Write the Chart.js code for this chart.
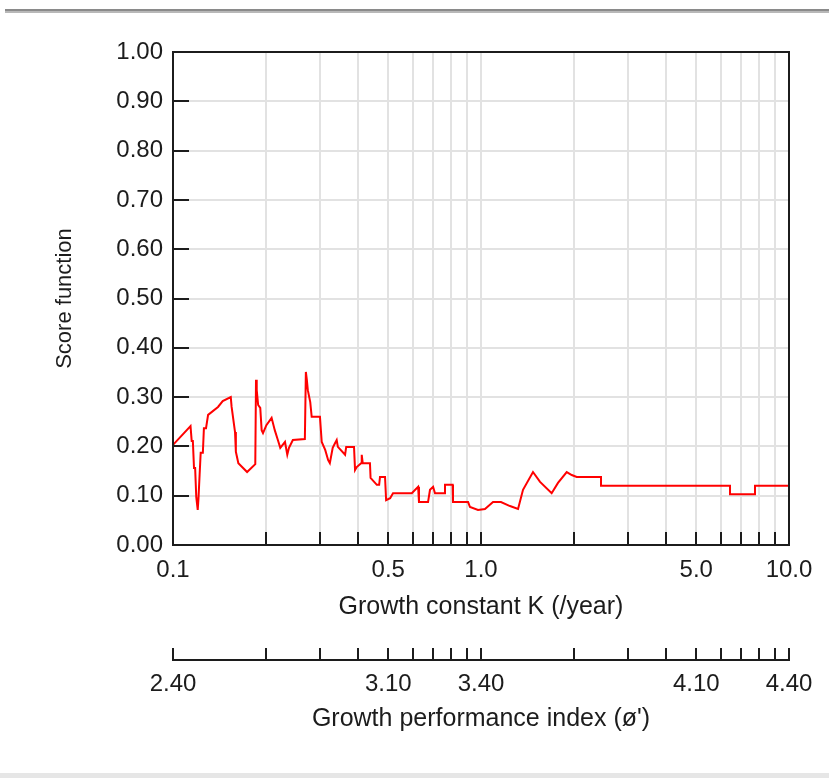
<!DOCTYPE html>
<html>
<head>
<meta charset="utf-8">
<title>Score function</title>
<script src="https://cdn.jsdelivr.net/npm/chart.js@4.4.1/dist/chart.umd.min.js"></script>
<style>
  html, body { margin: 0; padding: 0; background: #fff; }
  canvas { display: block; }
</style>
</head>
<body>
<canvas id="scoreChart" width="829" height="778"></canvas>
<script>
// ---------- DATA ----------
const growthK = [
  0.1, 0.114, 0.115, 0.116, 0.117, 0.118, 0.119, 0.1196, 0.1203, 0.121,
  0.122, 0.123, 0.125, 0.126, 0.128, 0.130, 0.140, 0.145, 0.154, 0.155,
  0.159, 0.160, 0.163, 0.174, 0.185, 0.186, 0.187, 0.189, 0.192, 0.194,
  0.196, 0.201, 0.209, 0.214, 0.219, 0.223, 0.227, 0.231, 0.235, 0.238,
  0.245, 0.268, 0.270, 0.272, 0.274, 0.279, 0.282, 0.300, 0.304, 0.312,
  0.319, 0.323, 0.330, 0.336, 0.340, 0.343, 0.362, 0.365, 0.387, 0.390,
  0.395, 0.408, 0.410, 0.413, 0.436, 0.438, 0.459, 0.467, 0.470, 0.488,
  0.492, 0.507, 0.518, 0.596, 0.625, 0.629, 0.673, 0.683, 0.699, 0.709,
  0.759, 0.764, 0.809, 0.811, 0.908, 0.921, 0.978, 1.030, 1.094, 1.161,
  1.242, 1.319, 1.369, 1.475, 1.555, 1.696, 1.778, 1.898, 1.971, 2.045,
  2.453, 2.453, 6.434, 6.434, 7.755, 7.755, 10.0
];
const scoreValues = [
  0.203, 0.241, 0.211, 0.211, 0.156, 0.156, 0.097, 0.097, 0.071, 0.095,
  0.142, 0.187, 0.187, 0.237, 0.237, 0.264, 0.280, 0.292, 0.300, 0.280,
  0.229, 0.189, 0.166, 0.148, 0.164, 0.335, 0.314, 0.284, 0.278, 0.233,
  0.227, 0.243, 0.258, 0.233, 0.213, 0.197, 0.203, 0.209, 0.183, 0.197,
  0.213, 0.215, 0.351, 0.335, 0.314, 0.290, 0.260, 0.260, 0.209, 0.193,
  0.172, 0.166, 0.197, 0.207, 0.213, 0.199, 0.183, 0.199, 0.199, 0.152,
  0.158, 0.166, 0.183, 0.166, 0.166, 0.136, 0.122, 0.122, 0.138, 0.138,
  0.091, 0.095, 0.105, 0.105, 0.118, 0.087, 0.087, 0.112, 0.118, 0.105,
  0.105, 0.122, 0.122, 0.087, 0.087, 0.077, 0.071, 0.073, 0.087, 0.087,
  0.079, 0.073, 0.112, 0.148, 0.128, 0.105, 0.126, 0.148, 0.142, 0.138,
  0.138, 0.120, 0.120, 0.103, 0.103, 0.120, 0.120
];

// log ticks on K axis, and which of them get a label
const kTicks = [0.1, 0.2, 0.3, 0.4, 0.5, 0.6, 0.7, 0.8, 0.9, 1, 2, 3, 4, 5, 6, 7, 8, 9, 10];
const kLabelValues = [0.1, 0.5, 1, 5, 10];
const kLabelText = ["0.1", "0.5", "1.0", "5.0", "10.0"];
const phiLabelText = ["2.40", "3.10", "3.40", "4.10", "4.40"];
const yTicks = [0, 0.1, 0.2, 0.3, 0.4, 0.5, 0.6, 0.7, 0.8, 0.9, 1.0];

const FONT = "'Liberation Sans', Arial, sans-serif";
const INK = "#1c1c1c";

// ---------- FRAME / TICK MARKS ----------
const framePlugin = {
  id: "frame",
  beforeDraw(chart) {
    const ctx = chart.ctx;
    ctx.save();
    ctx.fillStyle = "#fff";
    ctx.fillRect(0, 0, chart.width, chart.height);
    // window decoration lines
    ctx.fillStyle = "#8a8a8a";
    ctx.fillRect(5, 9, chart.width - 5, 2);
    ctx.fillStyle = "#b8b8b8";
    ctx.fillRect(5, 11, chart.width - 5, 2);
    ctx.fillStyle = "#e6e6e6";
    ctx.fillRect(0, 773, chart.width, 5);
    ctx.restore();
  },
  afterDraw(chart) {
    const ctx = chart.ctx;
    const a = chart.chartArea;
    const xs = chart.scales.x;
    const x2 = chart.scales.x2;
    const ys = chart.scales.y;
    ctx.save();
    ctx.strokeStyle = INK;
    ctx.lineWidth = 2;
    ctx.strokeRect(a.left, a.top, a.right - a.left, a.bottom - a.top);

    ctx.beginPath();
    xs.ticks.forEach(t => {
      const px = Math.round(xs.getPixelForValue(t.value));
      ctx.moveTo(px, a.bottom);
      ctx.lineTo(px, a.bottom - 13);
    });
    ys.ticks.forEach(t => {
      const py = Math.round(ys.getPixelForValue(t.value));
      ctx.moveTo(a.left, py);
      ctx.lineTo(a.left + 16, py);
    });
    x2.ticks.forEach(t => {
      const px = Math.round(x2.getPixelForValue(t.value));
      ctx.moveTo(px, x2.top);
      ctx.lineTo(px, x2.top - 12);
    });
    ctx.stroke();
    ctx.restore();
  }
};

function labelFor(texts) {
  return value => {
    const i = kLabelValues.findIndex(v => Math.abs(v - value) < 1e-9);
    return i >= 0 ? texts[i] : "";
  };
}

// ---------- CHART ----------
const ctx = document.getElementById("scoreChart");

new Chart(ctx, {
  type: "line",
  data: {
    datasets: [
      {
        data: growthK.map((k, i) => ({ x: k, y: scoreValues[i] })),
        borderColor: "#ff0000",
        borderWidth: 2,
        pointRadius: 0,
        tension: 0,
        fill: false
      }
    ]
  },
  options: {
    responsive: false,
    animation: false,
    devicePixelRatio: 1,
    layout: { padding: { top: 52, right: 40, bottom: 18, left: 0 } },
    plugins: {
      legend: { display: false },
      tooltip: { enabled: false }
    },
    scales: {
      x: {
        type: "logarithmic",
        position: "bottom",
        weight: 0,
        min: 0.1,
        max: 10,
        afterBuildTicks: s => { s.ticks = kTicks.map(v => ({ value: v })); },
        afterFit: s => { s.height = 115; },
        ticks: {
          autoSkip: false,
          maxRotation: 0,
          padding: 11,
          color: INK,
          font: { family: FONT, size: 24 },
          callback: labelFor(kLabelText)
        },
        grid: { color: "#e2e2e2", lineWidth: 2, drawTicks: false },
        border: { display: true, color: INK, width: 2 },
        title: {
          display: true,
          text: "Growth constant K (/year)",
          color: INK,
          font: { family: FONT, size: 25 },
          padding: { top: 0, bottom: 38 }
        }
      },
      x2: {
        type: "logarithmic",
        position: "bottom",
        weight: 1,
        min: 0.1,
        max: 10,
        afterBuildTicks: s => { s.ticks = kTicks.map(v => ({ value: v })); },
        afterFit: s => { s.height = 100; },
        ticks: {
          autoSkip: false,
          maxRotation: 0,
          padding: 10,
          color: INK,
          font: { family: FONT, size: 24 },
          callback: labelFor(phiLabelText)
        },
        grid: { display: false, drawTicks: false },
        border: { display: true, color: INK, width: 2 },
        title: {
          display: true,
          text: "Growth performance index (ø')",
          color: INK,
          font: { family: FONT, size: 25 },
          padding: { top: 0, bottom: 26 }
        }
      },
      y: {
        type: "linear",
        min: 0,
        max: 1,
        afterBuildTicks: s => { s.ticks = yTicks.map(v => ({ value: v })); },
        afterFit: s => { s.width = 173; },
        ticks: {
          padding: 10,
          color: INK,
          font: { family: FONT, size: 24 },
          callback: v => v.toFixed(2)
        },
        grid: { color: "#e2e2e2", lineWidth: 2, drawTicks: false },
        border: { display: true, color: INK, width: 2 },
        title: {
          display: true,
          text: "Score function",
          color: INK,
          font: { family: FONT, size: 22 },
          padding: { top: 52, bottom: 0 }
        }
      }
    }
  },
  plugins: [framePlugin]
});
</script>
</body>
</html>
